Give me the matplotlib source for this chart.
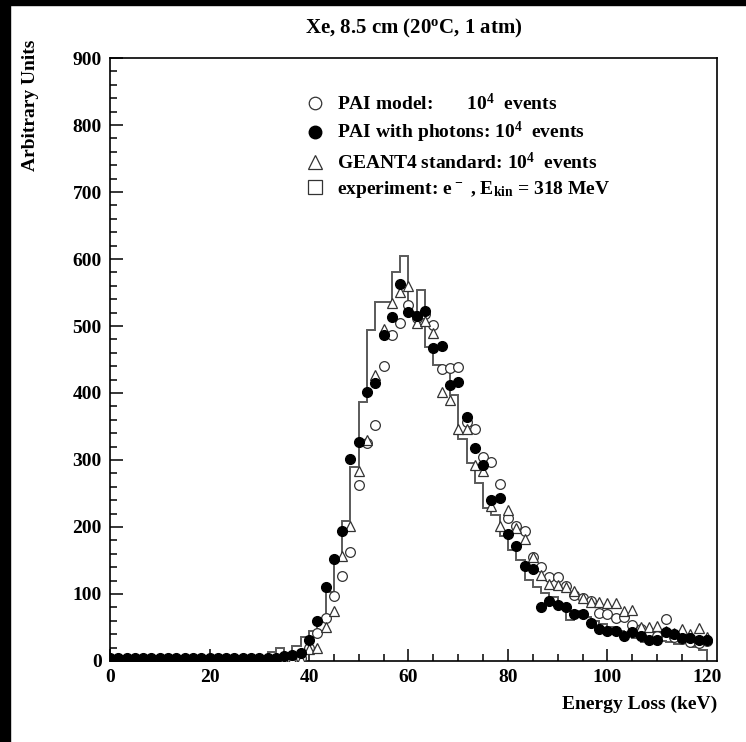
import numpy as np
import matplotlib.pyplot as plt
from matplotlib.lines import Line2D
from matplotlib.patches import Rectangle
from matplotlib.ticker import MultipleLocator

plt.rcParams['font.family'] = ['Liberation Serif', 'DejaVu Serif']
plt.rcParams['font.weight'] = 'bold'
plt.rcParams['mathtext.default'] = 'regular'

# energy loss sampling points (keV), 5/3 keV spacing
energy = np.linspace(0, 120, 73)

# PAI model (open circles)
pai_model = [2] * 23 + [
    5, 19, 42, 64, 97, 127, 162, 263, 325, 352,
    440, 486, 505, 531, 512, 518, 501, 436, 438, 439,
    357, 346, 304, 297, 264, 213, 202, 194, 155, 141,
    125, 125, 112, 99, 94, 90, 71, 70, 64, 66,
    54, 48, 42, 38, 62, 36, 33, 28, 27, 30]

# PAI with photons (filled circles)
pai_photons = [4] * 21 + [
    7, 9, 12, 32, 60, 111, 152, 194, 301, 327,
    402, 415, 486, 514, 562, 521, 515, 522, 467, 470,
    412, 416, 364, 318, 292, 240, 243, 190, 171, 142,
    138, 80, 89, 83, 80, 70, 70, 57, 48, 44,
    44, 38, 43, 37, 31, 31, 43, 40, 35, 34,
    32, 31]

# GEANT4 standard (open triangles)
geant4 = [2] * 24 + [
    18, 20, 50, 74, 156, 201, 284, 330, 427, 496,
    535, 551, 560, 504, 508, 490, 402, 390, 346, 346,
    292, 283, 232, 201, 225, 198, 182, 155, 128, 115,
    113, 110, 105, 94, 88, 88, 86, 86, 74, 76,
    51, 51, 52, 45, 42, 47, 40, 49, 36]

# experiment histogram (72 bins between the sampling points)
experiment = [0] * 19 + [
    14, 19, 8, 22, 36, 45, 60, 103, 150, 209,
    290, 387, 494, 536, 536, 581, 604, 521, 554, 469,
    442, 432, 397, 332, 295, 265, 228, 218, 186, 166,
    151, 121, 110, 101, 96, 83, 61, 75, 65, 60,
    55, 50, 45, 40, 35, 29, 32, 30, 28, 25,
    28, 21, 17]

fig = plt.figure(figsize=(7.46, 7.42), dpi=100)
ax = fig.add_axes([0.1475, 0.1092, 0.8135, 0.8126])

# black strips from the scanned original
fig.patches.append(Rectangle((0, 0), 10 / 746, 1, transform=fig.transFigure,
                             color='black', zorder=0))
fig.patches.append(Rectangle((0, 1 - 5 / 742), 1, 5 / 742, transform=fig.transFigure,
                             color='black', zorder=0))

ax.stairs(experiment, energy, color='#5a5a5a', linewidth=1.4, zorder=2)
ax.plot(energy, pai_model, ls='none', marker='o', ms=7, mfc='white',
        mec='#333333', mew=0.9, zorder=3)
ax.plot(energy, geant4, ls='none', marker='^', ms=7.5, mfc='white',
        mec='#333333', mew=0.9, zorder=4)
ax.plot(energy, pai_photons, ls='none', marker='o', ms=7, mfc='black',
        mec='black', zorder=5)

ax.set_xlim(0, 122)
ax.set_ylim(0, 900)
ax.xaxis.set_major_locator(MultipleLocator(20))
ax.xaxis.set_minor_locator(MultipleLocator(5))
ax.yaxis.set_major_locator(MultipleLocator(100))
ax.yaxis.set_minor_locator(MultipleLocator(20))
ax.tick_params(which='both', direction='in', top=False, right=False,
               labelsize=14, width=1.1)
ax.tick_params(which='major', length=9, pad=6)
ax.tick_params(which='minor', length=5)
for lbl in ax.get_xticklabels() + ax.get_yticklabels():
    lbl.set_fontweight('bold')
for sp in ax.spines.values():
    sp.set_linewidth(1.2)

ax.set_title('Xe, 8.5 cm (20$^o$C, 1 atm)', fontsize=15, fontweight='bold', pad=18)
ax.set_xlabel('Energy Loss (keV)', fontsize=14, fontweight='bold', loc='right')
ax.set_ylabel('Arbitrary Units', fontsize=14, fontweight='bold', loc='top')
ax.yaxis.set_label_coords(-0.117, 1.03)
ax.xaxis.set_label_coords(1.0, -0.058)

handles = [
    Line2D([], [], ls='none', marker='o', ms=9, mfc='white', mec='#333333', mew=0.9),
    Line2D([], [], ls='none', marker='o', ms=9, mfc='black', mec='black'),
    Line2D([], [], ls='none', marker='^', ms=10, mfc='white', mec='#333333', mew=0.9),
    Line2D([], [], ls='none', marker='s', ms=10, mfc='white', mec='#333333', mew=0.9),
]
labels = [
    'PAI model:       $10^4$  events',
    'PAI with photons: $10^4$  events',
    'GEANT4 standard: $10^4$  events',
    'experiment: e$^-$ , E$_{kin}$ = 318 MeV',
]
ax.legend(handles, labels, loc='upper left', bbox_to_anchor=(0.2935, 0.972),
          frameon=False, handlelength=1.0, handletextpad=0.6, labelspacing=0.33,
          prop={'size': 14, 'weight': 'bold'})

fig.savefig('out.png', dpi=100)
